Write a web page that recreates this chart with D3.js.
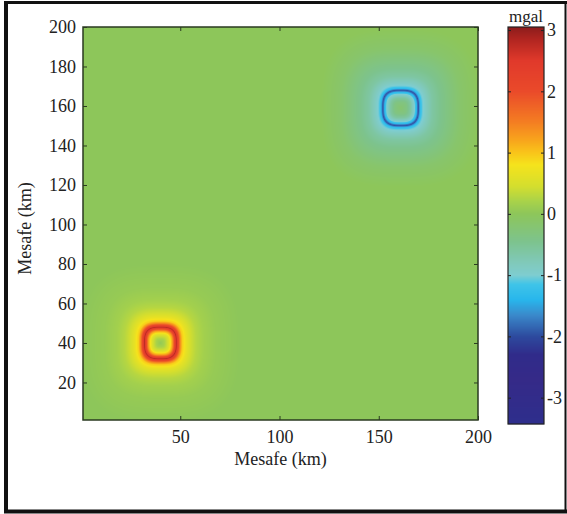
<!DOCTYPE html>
<html>
<head>
<meta charset="utf-8">
<script src="https://cdn.jsdelivr.net/npm/d3@7"></script>
<style>
  body { margin: 0; background: #fff; }
  svg { display: block; }
  text { font-family: "Liberation Serif", "Times New Roman", serif; fill: #222; }
</style>
</head>
<body>
<svg id="chart"></svg>
<script>
const width = 567;
const height = 514;
const plot = {left: 83, top: 27, right: 478, bottom: 420};
const bar = {left: 508, right: 544, top: 27, bottom: 424};

const xTicks = [50, 100, 150, 200];
const yTicks = [20, 40, 60, 80, 100, 120, 140, 160, 180, 200];
const barTicks = [-3, -2, -1, 0, 1, 2, 3];

// anomaly centres (km)
const posCenter = [40, 40];
const negCenter = [161, 159];

// radial profiles: distance (km) -> mgal
const posDist = [0, 2, 4, 5, 6, 7, 7.5, 8, 8.5, 9, 10, 11, 12, 13, 15, 18, 22, 28, 40];
const posVal = [0.05, 0.2, 0.5, 0.8, 1.25, 2.0, 2.4, 2.75, 2.45, 2.1, 1.4, 0.95, 0.8, 0.65, 0.45, 0.28, 0.16, 0.07, 0];
const negDist = [0, 3, 5, 7, 8, 8.5, 9, 9.5, 10, 11, 13, 16, 20, 25, 30, 40];
const negVal = [-0.2, -0.35, -0.6, -1.0, -1.35, -1.75, -1.95, -1.6, -1.25, -1.05, -0.85, -0.62, -0.45, -0.3, -0.15, 0];

// colour bar stops
const cmapVals = [-3.43, -2.7, -2.3, -2.0, -1.65, -1.4, -1.15, -1.0, -0.8, -0.45, 0, 0.2, 0.45, 0.8, 1.0, 1.2, 1.5, 2.0, 2.5, 2.85, 3.05];
const cmapColors = ['#2e2e8c', '#352a88', '#302b8a', '#2d4a9e', '#3a8acb', '#28b6ec', '#3fc4e8', '#7fcdd0', '#80c9ba', '#7dc38d',
    '#8dc65a', '#a8d24a', '#d4de2e', '#f5e31c', '#f9c41a', '#f8a51c', '#f47d22', '#ea4a2a', '#e0392b', '#b02520', '#8b1c1c'];

const svg = d3.select('#chart')
    .attr('width', width)
    .attr('height', height);

const x = d3.scaleLinear().domain([1, 200]).range([plot.left, plot.right]);
const y = d3.scaleLinear().domain([1, 200]).range([plot.bottom, plot.top]);
const yBar = d3.scaleLinear().domain([-3.43, 3.05]).range([bar.bottom, bar.top]);

const color = d3.scaleLinear().domain(cmapVals).range(cmapColors).clamp(true);
const posProfile = d3.scaleLinear().domain(posDist).range(posVal).clamp(true);
const negProfile = d3.scaleLinear().domain(negDist).range(negVal).clamp(true);

// rounded-square distance, the rings are not quite circles
function dist(px, py, c) {
    const p = 3;
    return Math.pow(Math.pow(Math.abs(px - c[0]), p) + Math.pow(Math.abs(py - c[1]), p), 1 / p);
}

// field image
const w = plot.right - plot.left;
const h = plot.bottom - plot.top;
const canvas = document.createElement('canvas');
canvas.width = w;
canvas.height = h;
const ctx = canvas.getContext('2d');
const img = ctx.createImageData(w, h);
for (let j = 0; j < h; j++) {
    const ky = y.invert(plot.top + j + 0.5);
    for (let i = 0; i < w; i++) {
        const kx = x.invert(plot.left + i + 0.5);
        const v = posProfile(dist(kx, ky, posCenter)) + negProfile(dist(kx, ky, negCenter));
        const c = d3.rgb(color(v));
        const k = (j * w + i) * 4;
        img.data[k] = c.r;
        img.data[k + 1] = c.g;
        img.data[k + 2] = c.b;
        img.data[k + 3] = 255;
    }
}
ctx.putImageData(img, 0, 0);

svg.append('image')
    .attr('x', plot.left)
    .attr('y', plot.top)
    .attr('width', w)
    .attr('height', h)
    .attr('href', canvas.toDataURL());

// axes, ticks pointing inward
const fmt = d => String(d);
const xAxis = svg.append('g').attr('transform', `translate(0, ${plot.bottom})`)
    .call(d3.axisBottom(x).tickValues(xTicks).tickSizeInner(-4).tickSizeOuter(0).tickPadding(10).tickFormat(fmt));
const xAxisTop = svg.append('g').attr('transform', `translate(0, ${plot.top})`)
    .call(d3.axisTop(x).tickValues(xTicks).tickSizeInner(-4).tickSizeOuter(0).tickFormat(''));
const yAxis = svg.append('g').attr('transform', `translate(${plot.left}, 0)`)
    .call(d3.axisLeft(y).tickValues(yTicks).tickSizeInner(-4).tickSizeOuter(0).tickPadding(7).tickFormat(fmt));
const yAxisRight = svg.append('g').attr('transform', `translate(${plot.right}, 0)`)
    .call(d3.axisRight(y).tickValues(yTicks).tickSizeInner(-4).tickSizeOuter(0).tickFormat(''));

[xAxis, xAxisTop, yAxis, yAxisRight].forEach(g => {
    g.select('.domain').remove();
    g.selectAll('line').attr('stroke', '#2a3a20');
    g.selectAll('text').style('font-size', '18px').attr('fill', '#222');
});

svg.append('rect')
    .attr('x', plot.left)
    .attr('y', plot.top)
    .attr('width', w)
    .attr('height', h)
    .attr('fill', 'none')
    .attr('stroke', '#2a3a20')
    .attr('stroke-width', 1.5);

svg.append('text')
    .attr('x', (plot.left + plot.right) / 2)
    .attr('y', 465)
    .attr('text-anchor', 'middle')
    .style('font-size', '18px')
    .text('Mesafe (km)');

svg.append('text')
    .attr('transform', `translate(31, ${(plot.top + plot.bottom) / 2 + 5}) rotate(-90)`)
    .attr('text-anchor', 'middle')
    .style('font-size', '18px')
    .text('Mesafe (km)');

// colour bar
const rows = d3.range(bar.top, bar.bottom);
svg.append('g').selectAll('rect').data(rows)
    .enter()
    .append('rect')
    .attr('x', bar.left)
    .attr('y', d => d)
    .attr('width', bar.right - bar.left)
    .attr('height', 1.2)
    .attr('fill', d => color(yBar.invert(d + 0.5)));

const barAxis = svg.append('g').attr('transform', `translate(${bar.right}, 0)`)
    .call(d3.axisRight(yBar).tickValues(barTicks).tickSizeInner(-3).tickSizeOuter(0).tickPadding(3).tickFormat(fmt));
const barAxisLeft = svg.append('g').attr('transform', `translate(${bar.left}, 0)`)
    .call(d3.axisLeft(yBar).tickValues(barTicks).tickSizeInner(-3).tickSizeOuter(0).tickFormat(''));
[barAxis, barAxisLeft].forEach(g => {
    g.select('.domain').remove();
    g.selectAll('line').attr('stroke', '#222');
    g.selectAll('text').style('font-size', '18px').attr('fill', '#222');
});

svg.append('rect')
    .attr('x', bar.left)
    .attr('y', bar.top)
    .attr('width', bar.right - bar.left)
    .attr('height', bar.bottom - bar.top)
    .attr('fill', 'none')
    .attr('stroke', '#222')
    .attr('stroke-width', 1.2);

svg.append('text')
    .attr('x', (bar.left + bar.right) / 2)
    .attr('y', 22)
    .attr('text-anchor', 'middle')
    .style('font-size', '17px')
    .text('mgal');

// outer frame
svg.append('line').attr('x1', 6).attr('x2', 6).attr('y1', 1).attr('y2', 513).attr('stroke', '#111').attr('stroke-width', 4);
svg.append('line').attr('x1', 4).attr('x2', 567).attr('y1', 2.5).attr('y2', 2.5).attr('stroke', '#111').attr('stroke-width', 3);
svg.append('line').attr('x1', 4).attr('x2', 567).attr('y1', 511.5).attr('y2', 511.5).attr('stroke', '#111').attr('stroke-width', 4);
svg.append('line').attr('x1', 565.5).attr('x2', 565.5).attr('y1', 1).attr('y2', 513).attr('stroke', '#111').attr('stroke-width', 2);
</script>
</body>
</html>
